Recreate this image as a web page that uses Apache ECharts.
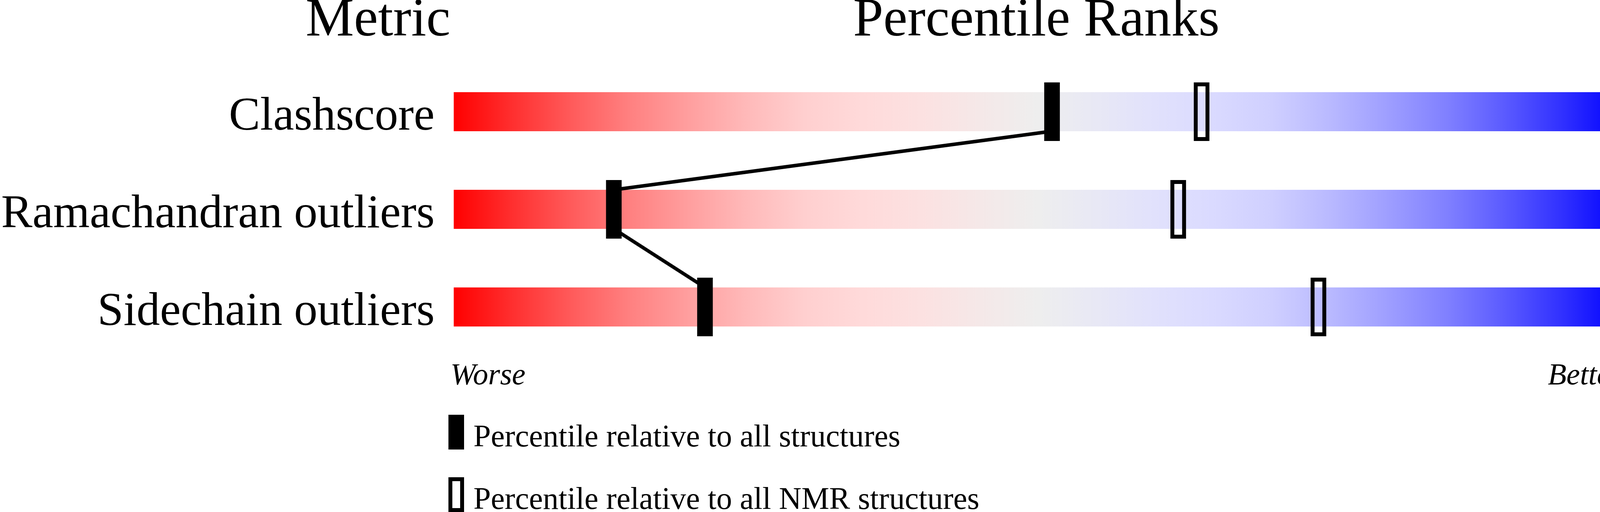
<!DOCTYPE html>
<html>
<head>
<meta charset="utf-8">
<script src="https://cdn.jsdelivr.net/npm/echarts@6/dist/echarts.min.js"></script>
<style>
html,body{margin:0;padding:0;background:#fff;overflow:hidden;}
#chart{width:4485px;height:1311px;}
</style>
</head>
<body>
<div id="chart"></div>
<script>
// ---- data ----
const categories = ['Clashscore', 'Ramachandran outliers', 'Sidechain outliers'];
const valueLabels = ['5', '1.2%', '5.3%'];
const pctAll = [51.2, 13.7, 21.5];     // percentile relative to all structures
const pctNMR = [64, 62, 74];           // percentile relative to all NMR structures
const fullScale = [100, 100, 100];     // slider length (percentile 0..100)
const headers = ['Metric', 'Percentile Ranks', 'Value'];
const scaleEnds = ['Worse', 'Better'];
const legendLabels = ['Percentile relative to all structures', 'Percentile relative to all NMR structures'];

const FONT = '"Liberation Serif", "Times New Roman", serif';

const chart = echarts.init(document.getElementById('chart'), null, {renderer: 'canvas'});

const gradient = new echarts.graphic.LinearGradient(0, 0, 1, 0, [
  {offset: 0.00, color: 'rgb(255,0,0)'},
  {offset: 0.05, color: 'rgb(255,47,47)'},
  {offset: 0.10, color: 'rgb(255,90,90)'},
  {offset: 0.15, color: 'rgb(255,128,128)'},
  {offset: 0.20, color: 'rgb(255,158,158)'},
  {offset: 0.25, color: 'rgb(255,185,185)'},
  {offset: 0.30, color: 'rgb(255,207,207)'},
  {offset: 0.35, color: 'rgb(255,218,218)'},
  {offset: 0.40, color: 'rgb(252,225,225)'},
  {offset: 0.45, color: 'rgb(245,232,232)'},
  {offset: 0.50, color: 'rgb(238,238,238)'},
  {offset: 0.55, color: 'rgb(232,232,245)'},
  {offset: 0.60, color: 'rgb(225,225,252)'},
  {offset: 0.65, color: 'rgb(218,218,255)'},
  {offset: 0.70, color: 'rgb(207,207,255)'},
  {offset: 0.75, color: 'rgb(185,185,255)'},
  {offset: 0.80, color: 'rgb(158,158,255)'},
  {offset: 0.85, color: 'rgb(128,128,255)'},
  {offset: 0.90, color: 'rgb(90,90,255)'},
  {offset: 0.95, color: 'rgb(47,47,255)'},
  {offset: 1.00, color: 'rgb(0,0,255)'}
]);

const links = [];
for (let i = 0; i < pctAll.length - 1; i++) {
  links.push([pctAll[i], i, pctAll[i + 1], i + 1]);
}

const hiddenAxisParts = {
  axisLine: {show: false}, axisTick: {show: false}, splitLine: {show: false}
};

function markerRenderer(hollow) {
  return function (params, api) {
    const c = api.coord([api.value(0), api.value(1)]);
    const band = api.size([0, 1])[1];
    const h = band * 0.6;          // marker overhangs the bar
    if (hollow) {
      return {
        type: 'rect',
        shape: {x: c[0] - 15, y: c[1] - h / 2 + 5, width: 30, height: h - 10},
        style: {fill: 'none', stroke: '#000', lineWidth: 10}
      };
    }
    return {
      type: 'rect',
      shape: {x: c[0] - 20, y: c[1] - h / 2, width: 40, height: h},
      style: {fill: '#000'}
    };
  };
}

const labelStyle = {
  fontSize: 120, fontFamily: FONT, color: '#000',
  verticalAlign: 'top', lineHeight: 28
};

const option = {
  animation: false,
  backgroundColor: '#fff',
  grid: {left: 1153, right: 332, top: 161, height: 750},
  xAxis: {type: 'value', min: 0, max: 100, show: false},
  yAxis: [
    Object.assign({
      type: 'category', data: categories, inverse: true,
      axisLabel: Object.assign({margin: 49}, labelStyle)
    }, hiddenAxisParts),
    Object.assign({
      type: 'category', data: valueLabels, inverse: true, position: 'right',
      axisLabel: Object.assign({margin: 50, align: 'left'}, labelStyle)
    }, hiddenAxisParts)
  ],
  series: [
    {
      type: 'bar', data: fullScale, barWidth: 100, silent: true, z: 1,
      itemStyle: {color: gradient}
    },
    {
      type: 'custom', z: 2, silent: true,
      dimensions: ['x1', 'c1', 'x2', 'c2'],
      encode: {x: [0, 2], y: [1, 3]},
      data: links,
      renderItem: function (params, api) {
        const a = api.coord([api.value(0), api.value(1)]);
        const b = api.coord([api.value(2), api.value(3)]);
        const half = api.size([0, 1])[1] * 0.2;
        return {
          type: 'polyline',
          shape: {points: [[a[0], a[1] + half], [b[0], b[1] - half]]},
          style: {stroke: '#000', lineWidth: 9, fill: null}
        };
      }
    },
    {
      type: 'custom', name: legendLabels[0], z: 3, silent: true,
      encode: {x: 0, y: 1},
      data: pctAll.map((p, i) => [p, i]),
      renderItem: markerRenderer(false)
    },
    {
      type: 'custom', name: legendLabels[1], z: 3, silent: true,
      encode: {x: 0, y: 1},
      data: pctNMR.map((p, i) => [p, i]),
      renderItem: markerRenderer(true)
    }
  ],
  graphic: [
    {type: 'text', x: 1153, y: 54, style: {text: headers[0], font: '139px ' + FONT, fill: '#000', align: 'right', verticalAlign: 'middle'}},
    {type: 'text', x: 2653, y: 54, style: {text: headers[1], font: '139px ' + FONT, fill: '#000', align: 'center', verticalAlign: 'middle'}},
    {type: 'text', x: 4153, y: 54, style: {text: headers[2], font: '139px ' + FONT, fill: '#000', align: 'left', verticalAlign: 'middle'}},
    {type: 'text', x: 1153, y: 963, style: {text: scaleEnds[0], font: 'italic 78px ' + FONT, fill: '#000', align: 'left', verticalAlign: 'middle'}},
    {type: 'text', x: 4153, y: 963, style: {text: scaleEnds[1], font: 'italic 78px ' + FONT, fill: '#000', align: 'right', verticalAlign: 'middle'}},
    {type: 'rect', shape: {x: 1148, y: 1062, width: 40, height: 89}, style: {fill: '#000'}},
    {type: 'text', x: 1212, y: 1122, style: {text: legendLabels[0], font: '80px ' + FONT, fill: '#000', align: 'left', verticalAlign: 'middle'}},
    {type: 'rect', shape: {x: 1153, y: 1227, width: 30, height: 79}, style: {fill: 'none', stroke: '#000', lineWidth: 10}},
    {type: 'text', x: 1212, y: 1282, style: {text: legendLabels[1], font: '80px ' + FONT, fill: '#000', align: 'left', verticalAlign: 'middle'}}
  ]
};

chart.setOption(option);
</script>
</body>
</html>
